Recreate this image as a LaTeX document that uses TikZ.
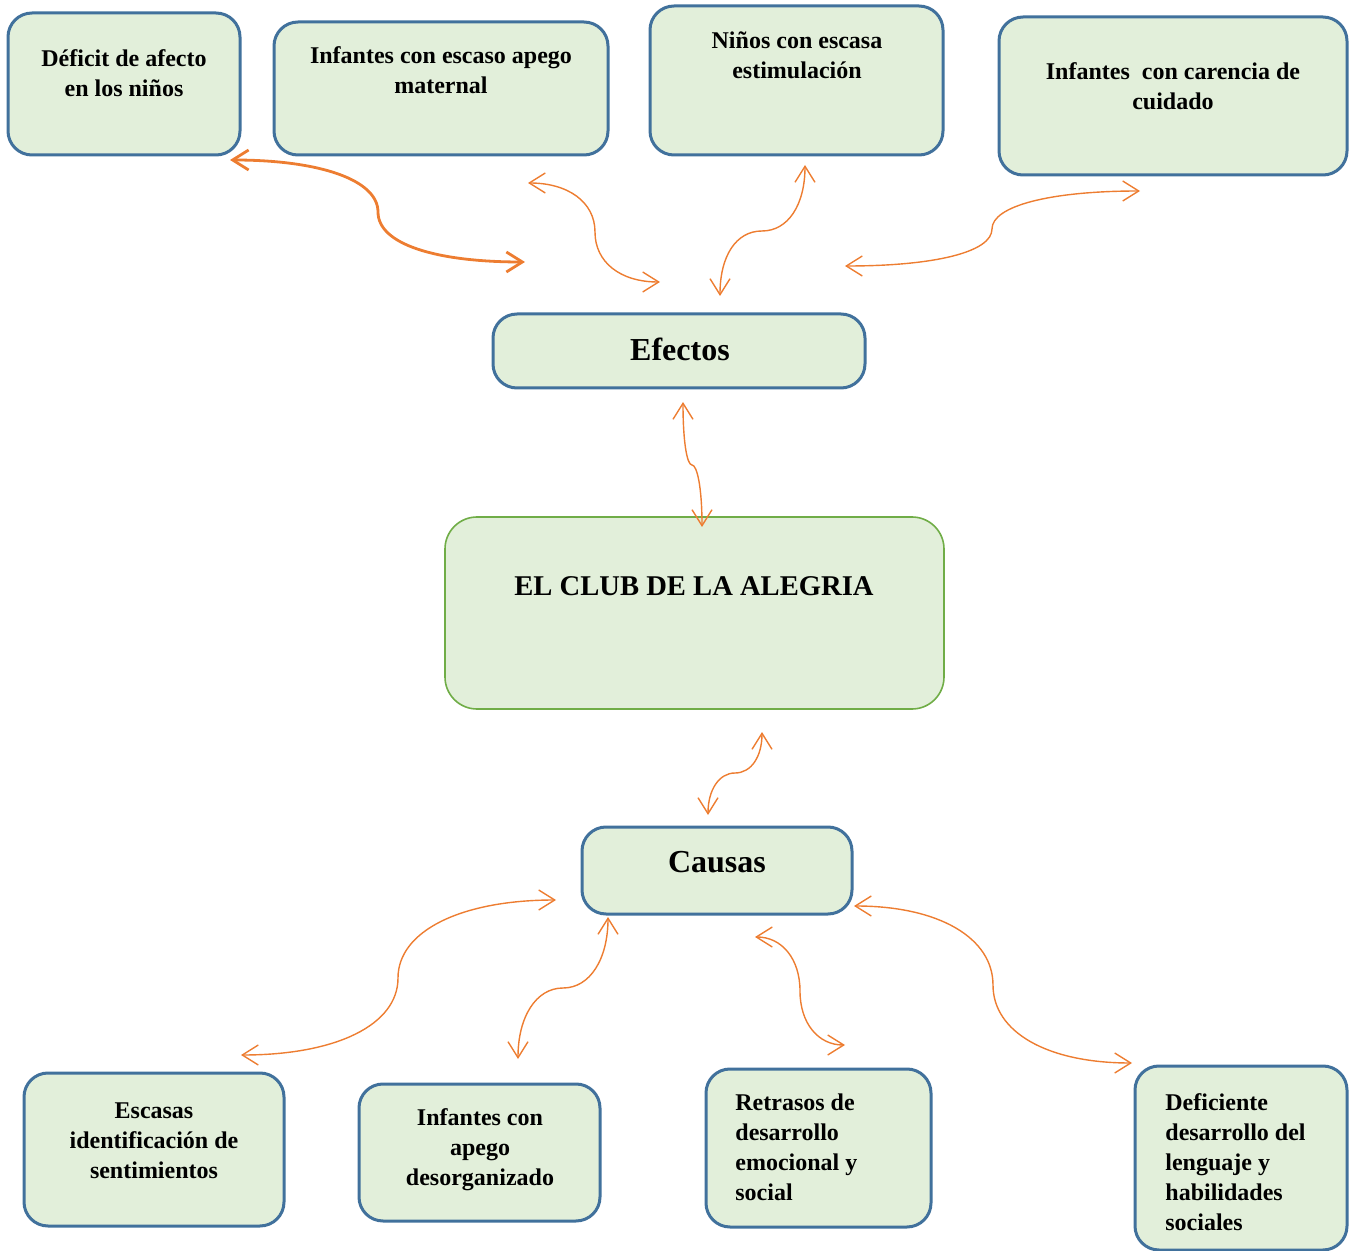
\documentclass[tikz,border=0pt]{standalone}
\usepackage{fontspec}
\setmainfont{Liberation Serif}
\usepackage{tikz}
\usetikzlibrary{arrows.meta,positioning}
\definecolor{cajafondo}{RGB}{226,239,218}
\definecolor{cajaborde}{RGB}{65,113,156}
\definecolor{clubborde}{RGB}{112,173,71}
\definecolor{naranja}{RGB}{237,125,49}
\tikzset{
  caja/.style={draw=cajaborde, fill=cajafondo, line width=1.5pt, rounded corners=12pt, inner sep=0pt},
  texto/.style={font=\fontsize{12}{15}\selectfont\bfseries, align=center, inner sep=0pt},
  flecha/.style={draw=naranja, line width=0.7pt, {Straight Barb[length=8pt,width=10pt]}-{Straight Barb[length=8pt,width=10pt]}},
}

\begin{document}
\begin{tikzpicture}[x=0.5pt,y=-0.5pt]
\useasboundingbox (0,0) rectangle (1356,1251);

% efectos (arriba)
\node[caja, minimum width=116pt, minimum height=71pt] (deficit) at (124,84) {};
\node[caja, minimum width=167pt, minimum height=66.5pt] (apego) at (441,88.5) {};
\node[caja, minimum width=146.5pt, minimum height=74.5pt] (estimulo) at (796.5,80.5) {};
\node[caja, minimum width=174pt, minimum height=79pt] (cuidado) at (1173,96) {};
\node[texto] (tdeficit) at (124,73) {Déficit de afecto\\en los niños};
\node[texto] (tapego) at (441,70) {Infantes con escaso apego\\maternal};
\node[texto] (testimulo) at (797,55) {Niños con escasa\\estimulación};
\node[texto] (tcuidado) at (1173,86) {Infantes\ \ con carencia de\\cuidado};

% centro
\node[caja, minimum width=186pt, minimum height=37pt] (efectos) at (679,351) {};
\node[texto, font=\fontsize{16}{19}\selectfont\bfseries] (tefectos) at (680,349) {Efectos};
\node[caja, draw=clubborde, line width=0.8pt, rounded corners=16pt, minimum width=249.5pt, minimum height=96pt] (club) at (694.5,613) {};
\node[texto, font=\fontsize{14.3}{17}\selectfont\bfseries] (tclub) at (694,586) {EL CLUB DE LA ALEGRIA};
\node[caja, minimum width=135pt, minimum height=43.5pt] (causas) at (717,870.5) {};
\node[texto, font=\fontsize{16}{19}\selectfont\bfseries] (tcausas) at (717,862) {Causas};

% causas (abajo)
\node[caja, minimum width=130pt, minimum height=76.5pt] (sentir) at (154,1149.5) {};
\node[caja, minimum width=120.5pt, minimum height=68.5pt] (desorg) at (479.5,1152.5) {};
\node[caja, minimum width=112.5pt, minimum height=79pt] (retraso) at (818.5,1148) {};
\node[caja, minimum width=106pt, minimum height=92pt] (lenguaje) at (1241,1158) {};
\node[texto] (tsentir) at (154,1141) {Escasas\\identificación de\\sentimientos};
\node[texto] (tdesorg) at (480,1150) {Infantes con\\apego\\desorganizado};
\node[texto, align=left, anchor=west] (tretraso) at (735,1147) {Retrasos de\\desarrollo\\emocional y\\social};
\node[texto, align=left, anchor=west] (tlenguaje) at (1165,1162) {Deficiente\\desarrollo del\\lenguaje y\\habilidades\\sociales};

% puntas de las flechas
\coordinate (f1a) at (230,160);  \coordinate (f1m) at (378,212);  \coordinate (f1b) at (525,262);
\coordinate (f2a) at (528,183);  \coordinate (f2m) at (595,232);  \coordinate (f2b) at (660,282);
\coordinate (f3a) at (805,165);  \coordinate (f3m) at (762,231);  \coordinate (f3b) at (720,296);
\coordinate (f4a) at (1140,191); \coordinate (f4m) at (992,229);  \coordinate (f4b) at (845,266);
\coordinate (f5a) at (683,402);  \coordinate (f5m) at (692,465);  \coordinate (f5b) at (702,527);
\coordinate (f6a) at (762,732);  \coordinate (f6m) at (735,773);  \coordinate (f6b) at (708,815);
\coordinate (f7a) at (556,900);  \coordinate (f7m) at (398,978);  \coordinate (f7b) at (241,1055);
\coordinate (f8a) at (608,917);  \coordinate (f8m) at (563,988);  \coordinate (f8b) at (518,1059);
\coordinate (f9a) at (755,937);  \coordinate (f9m) at (800,991);  \coordinate (f9b) at (845,1045);
\coordinate (f10a) at (854,906); \coordinate (f10m) at (993,985); \coordinate (f10b) at (1132,1063);

\draw[flecha, line width=1.4pt] (f1a) .. controls +(90,0) and +(0,-32) .. (f1m) .. controls +(0,32) and +(-90,0) .. (f1b);
\draw[flecha] (f2a) .. controls +(40,0) and +(0,-30) .. (f2m) .. controls +(0,30) and +(-40,0) .. (f2b);
\draw[flecha] (f3a) .. controls +(0,40) and +(26,0) .. (f3m) .. controls +(-26,0) and +(0,-40) .. (f3b);
\draw[flecha] (f4a) .. controls +(-90,0) and +(0,-23) .. (f4m) .. controls +(0,23) and +(90,0) .. (f4b);
\draw[flecha] (f5a) .. controls +(0,40) and +(-5,0) .. (f5m) .. controls +(5,0) and +(0,-40) .. (f5b);
\draw[flecha] (f6a) .. controls +(0,25) and +(16,0) .. (f6m) .. controls +(-16,0) and +(0,-25) .. (f6b);
\draw[flecha] (f7a) .. controls +(-95,0) and +(0,-47) .. (f7m) .. controls +(0,47) and +(95,0) .. (f7b);
\draw[flecha] (f8a) .. controls +(0,42) and +(27,0) .. (f8m) .. controls +(-27,0) and +(0,-42) .. (f8b);
\draw[flecha] (f9a) .. controls +(27,0) and +(0,-32) .. (f9m) .. controls +(0,32) and +(-27,0) .. (f9b);
\draw[flecha] (f10a) .. controls +(85,0) and +(0,-47) .. (f10m) .. controls +(0,47) and +(-85,0) .. (f10b);
\end{tikzpicture}
\end{document}
